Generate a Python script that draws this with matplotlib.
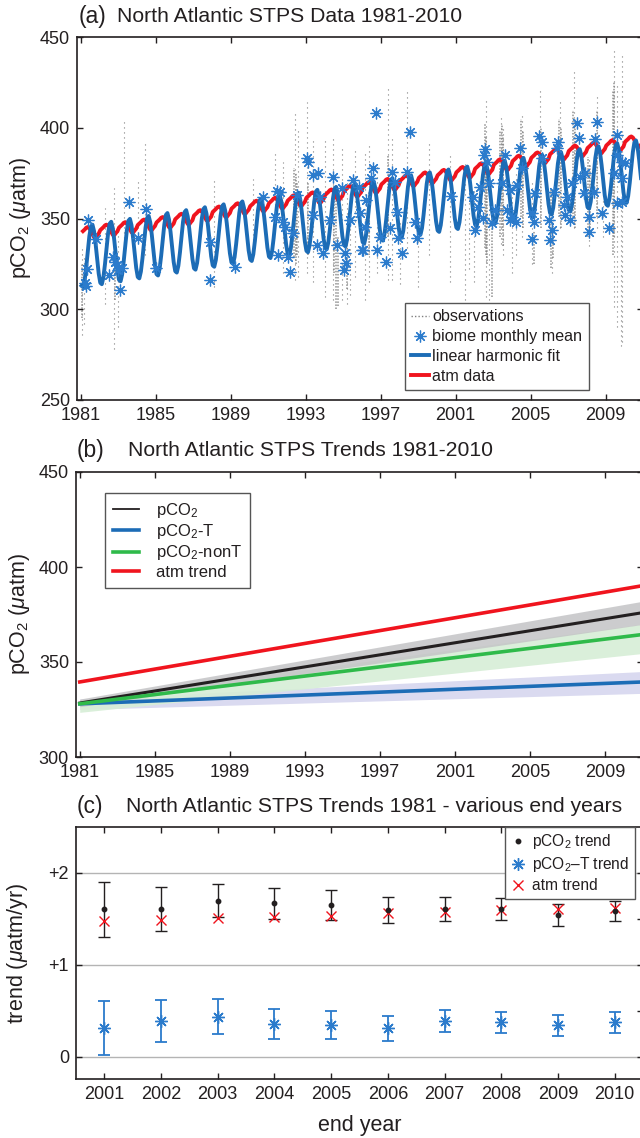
import numpy as np
import matplotlib
matplotlib.use("Agg")
import matplotlib.pyplot as plt
from matplotlib.lines import Line2D

plt.rcParams['font.family'] = ['Liberation Sans', 'DejaVu Sans']
plt.rcParams['mathtext.fontset'] = 'custom'
plt.rcParams['mathtext.rm'] = 'Liberation Sans'
plt.rcParams['mathtext.it'] = 'Liberation Sans:italic'
plt.rcParams['mathtext.sf'] = 'Liberation Sans'
plt.rcParams['text.color'] = '#231f20'
plt.rcParams['axes.labelcolor'] = '#231f20'
plt.rcParams['xtick.color'] = '#231f20'
plt.rcParams['ytick.color'] = '#231f20'

# ---------------- panel (a): observations and monthly means ----------------
# ship observation tracks: (decimal year, lowest value, highest value)
obs_t = [1981.05, 1981.15, 1982.30, 1982.80, 1983.00, 1983.30, 1984.05, 1984.45,
         1988.10, 1990.20, 1991.36, 1991.80, 1992.43, 1992.60, 1993.06, 1993.40,
         1994.03, 1994.48, 1994.93, 1995.20, 1995.37, 1995.64, 1996.17, 1996.40,
         1996.80, 1997.42, 1997.60, 1998.04, 1998.40, 1999.02, 1999.60, 2000.70,
         2001.50, 2001.73, 2001.96, 2002.60, 2002.76, 2003.40, 2003.55, 2004.00,
         2004.20, 2004.55, 2005.07, 2005.52, 2006.15, 2006.55, 2007.30, 2008.10,
         2008.57, 2008.85, 2009.43, 2009.60, 2009.80, 2009.89]
obs_lo = [286, 292, 303, 278, 290, 328, 345, 330,
          312, 338, 349, 320, 316, 318, 320, 315,
          307, 305, 305, 303, 308, 318, 305, 315,
          320, 316, 316, 314, 331, 312, 330, 315,
          305, 322, 315, 307, 305, 336, 330, 320,
          330, 340, 325, 351, 320, 345, 345, 335,
          345, 340, 301, 290, 280, 282]
obs_hi = [334, 330, 356, 367, 346, 405, 372, 392,
          372, 372, 388, 381, 410, 400, 414, 395,
          395, 395, 390, 372, 365, 388, 388, 392,
          380, 422, 395, 348, 421, 345, 392, 385,
          380, 371, 365, 417, 358, 406, 400, 372,
          375, 408, 372, 421, 366, 415, 432, 384,
          419, 360, 443, 425, 360, 440]

# densely sampled parts of the tracks
dense_t = [1981.05, 1982.85, 1992.40, 1992.48, 1992.55, 1993.10, 1994.50, 1994.62,
           1994.70, 1995.20, 1996.40, 1997.42, 2002.55, 2002.62, 2002.70, 2002.95,
           2003.35, 2003.45, 2003.55, 2004.50, 2004.58, 2005.16, 2005.55, 2006.10,
           2006.20, 2006.50, 2006.60, 2007.25, 2007.35, 2008.05, 2008.15, 2008.55,
           2009.40, 2009.47]
dense_lo = [295, 305, 329, 325, 330, 330, 320, 300,
            302, 311, 330, 340, 334, 330, 325, 307,
            340, 345, 335, 351, 345, 325, 345, 323,
            328, 351, 345, 351, 345, 340, 345, 351,
            330, 340]
dense_hi = [325, 340, 378, 375, 370, 370, 368, 360,
            340, 338, 365, 385, 402, 395, 380, 351,
            398, 402, 395, 405, 398, 343, 400, 366,
            360, 405, 400, 410, 405, 384, 380, 410,
            420, 425]

# biome monthly means
mean_t = [1981.23, 1981.28, 1981.32, 1981.41, 1981.82, 1982.53, 1982.71, 1982.83,
          1982.92, 1983.01, 1983.10, 1983.19, 1983.60, 1984.05, 1984.49, 1985.02,
          1987.87, 1987.90, 1989.23, 1990.72, 1991.36, 1991.45, 1991.54, 1991.63,
          1991.80, 1991.90, 1992.07, 1992.16, 1992.31, 1992.52, 1993.05, 1993.14,
          1993.41, 1993.41, 1993.59, 1993.68, 1993.77, 1993.94, 1994.30, 1994.48,
          1994.66, 1994.93, 1995.05, 1995.10, 1995.16, 1995.37, 1995.55, 1995.82,
          1995.90, 1995.99, 1996.08, 1996.16, 1996.24, 1996.50, 1996.60, 1996.78,
          1996.80, 1996.97, 1997.31, 1997.50, 1997.60, 1997.76, 1997.86, 1997.95,
          1998.13, 1998.39, 1998.57, 1998.84, 1998.96, 2000.78, 2001.94, 2002.05,
          2002.20, 2002.30, 2002.47, 2002.49, 2002.58, 2002.65, 2002.76, 2002.93,
          2003.12, 2003.47, 2003.65, 2003.72, 2003.92, 2003.92, 2004.00, 2004.20,
          2004.27, 2004.45, 2004.54, 2005.07, 2005.07, 2005.16, 2005.25, 2005.43,
          2005.61, 2005.61, 2005.97, 2006.06, 2006.15, 2006.23, 2006.40, 2006.48,
          2006.76, 2006.85, 2006.94, 2007.12, 2007.21, 2007.48, 2007.57, 2007.66,
          2007.83, 2007.92, 2008.10, 2008.10, 2008.37, 2008.46, 2008.55, 2008.82,
          2009.17, 2009.44, 2009.62, 2009.62, 2009.62, 2009.89, 2009.89, 2009.89,
          2010.06]
mean_v = [314.6, 313.0, 322.0, 349.2, 338.7, 318.9, 329.0, 326.2,
          324.4, 321.6, 310.6, 322.7, 358.9, 339.4, 355.2, 322.9,
          336.9, 316.1, 323.4, 362.0, 351.0, 365.2, 329.9, 364.8,
          348.2, 345.5, 329.0, 320.7, 341.8, 362.9, 383.2, 381.3,
          374.0, 352.0, 335.4, 374.9, 362.0, 330.8, 349.2, 372.7,
          335.4, 367.0, 321.6, 330.8, 325.3, 349.2, 371.2, 367.5,
          352.9, 332.6, 332.6, 345.5, 360.2, 372.1, 377.7, 408.0,
          332.6, 340.0, 326.2, 345.0, 375.8, 370.3, 353.7, 339.1,
          330.8, 375.8, 397.5, 348.2, 339.0, 362.5, 362.0, 343.7,
          356.5, 367.5, 350.1, 385.0, 388.5, 381.3, 369.4, 347.3,
          354.7, 369.4, 385.0, 354.7, 349.2, 365.7, 351.0, 348.2,
          368.5, 389.0, 377.7, 352.9, 338.5, 348.2, 363.9, 395.5,
          392.3, 383.2, 349.2, 338.1, 343.7, 364.8, 388.7, 392.0,
          357.4, 352.0, 362.0, 349.2, 369.4, 402.4, 394.2, 373.0,
          363.9, 375.0, 351.0, 342.7, 364.8, 393.8, 403.0, 353.0,
          344.6, 375.0, 396.0, 385.0, 358.4, 359.2, 372.1, 381.3,
          380.4]

# linear harmonic fit: level at 1981.0, slope per year, mean seasonal offsets (Jan..Dec)
fit_start = 328.8
fit_slope = 1.6
fit_season = [-15.9, -16.8, -13.2, -6.1, 2.6, 10.7, 15.9, 16.8, 13.2, 6.1, -2.6, -10.7]

# atmospheric pCO2: annual levels 1981-2010 and seasonal offsets (Jan..Dec)
atm_years = list(range(1981, 2011))
atm_annual = [342.5, 343.8, 345.2, 346.6, 348.0, 349.8, 351.8, 353.8, 355.6, 357.0,
              358.6, 360.0, 361.6, 363.2, 365.2, 367.2, 369.0, 371.0, 372.6, 374.0,
              375.6, 377.6, 379.8, 381.8, 383.6, 385.6, 387.4, 389.0, 390.4, 392.4]
atm_season = [-0.2, 0.6, 1.4, 2.4, 2.8, 2.2, 0.8, -1.2, -2.8, -3.0, -1.8, -0.8]

# ---------------- panel (b): trends ----------------
trend_years = [1981, 2011]
pco2_line = [328.4, 376.0]
pco2_lo = [326.5, 369.8]
pco2_hi = [330.5, 382.0]
pco2T_line = [328.0, 339.5]
pco2T_lo = [325.0, 333.5]
pco2T_hi = [330.5, 345.0]
pco2nonT_line = [328.0, 364.5]
pco2nonT_lo = [323.5, 354.5]
pco2nonT_hi = [330.0, 370.0]
atm_trend_line = [339.5, 390.2]

# ---------------- panel (c): trends for various end years ----------------
end_years = [2001, 2002, 2003, 2004, 2005, 2006, 2007, 2008, 2009, 2010]
pco2_trend = [1.606, 1.606, 1.696, 1.671, 1.653, 1.599, 1.613, 1.606, 1.548, 1.588]
pco2_trend_err = [0.30, 0.24, 0.18, 0.17, 0.16, 0.14, 0.13, 0.12, 0.12, 0.11]
pco2T_trend = [0.318, 0.394, 0.438, 0.354, 0.347, 0.311, 0.394, 0.376, 0.344, 0.376]
pco2T_trend_err = [0.295, 0.228, 0.19, 0.163, 0.15, 0.136, 0.12, 0.117, 0.112, 0.114]
atm_trend = [1.476, 1.490, 1.512, 1.523, 1.537, 1.562, 1.577, 1.599, 1.606, 1.617]

year_ticks = [1981, 1985, 1989, 1993, 1997, 2001, 2005, 2009]

C_TEXT = '#231f20'
C_FIT = '#1c6cb6'
C_STAR = '#2b7bcc'
C_RED = '#f0141e'
C_GREEN = '#2fba4a'
C_OBS = '#7f7f7f'

TITLE_FS = 15.2
LABEL_FS = 15.5

W, H = 640, 1138
fig = plt.figure(figsize=(W / 100, H / 100), dpi=100)


def add_axes_px(left, top, right, bottom):
    return fig.add_axes([left / W, 1 - bottom / H, (right - left) / W, (bottom - top) / H])


def style_axes(ax):
    for s in ax.spines.values():
        s.set_linewidth(1.2)
        s.set_color(C_TEXT)
    ax.tick_params(direction='in', top=True, right=True, length=4.5, width=1.0,
                   labelsize=13, pad=5)


star = (8, 2, 0)

# ---------- (a) ----------
axa = add_axes_px(77, 37, 643, 400)
axa.vlines(obs_t, obs_lo, obs_hi, colors=C_OBS, linewidth=0.8,
           linestyles=[(0, (1.0, 3.5))], zorder=1)
axa.vlines(dense_t, dense_lo, dense_hi, colors=C_OBS, linewidth=1.1,
           linestyles=[(0, (1.0, 1.0))], alpha=0.85, zorder=1)

months = np.arange(12)
atm_t = (np.array(atm_years)[:, None] + (months[None, :] + 0.5) / 12).ravel()
atm_v = (np.array(atm_annual)[:, None] + np.array(atm_season)[None, :]).ravel()
axa.plot(atm_t, atm_v, color=C_RED, lw=2.8, zorder=2, solid_capstyle='butt')

fit_t = (np.array(atm_years)[:, None] + (months[None, :] + 0.5) / 12).ravel()
fit_v = fit_start + fit_slope * (fit_t - 1981.0) + np.tile(fit_season, len(atm_years))
axa.plot(fit_t, fit_v, color=C_FIT, lw=2.8, zorder=3)

axa.plot(mean_t, mean_v, ls='none', marker=star, ms=8.5, mew=0.9, color=C_STAR, zorder=4)

axa.set_xlim(1980.8, 2011.0)
axa.set_ylim(250, 450)
axa.set_xticks(year_ticks)
axa.set_yticks([250, 300, 350, 400, 450])
style_axes(axa)
axa.set_ylabel(r'pCO$_2$ ($\mu$atm)', fontsize=LABEL_FS)
axa.yaxis.set_label_coords((33 - 77) / 566, 0.5)

fig.text(79 / W, 1 - 16 / H, '(a)', fontsize=16.5, va='center', ha='left')
fig.text(117 / W, 1 - 16 / H, 'North Atlantic STPS Data 1981-2010', fontsize=TITLE_FS,
         va='center', ha='left')

leg_a = axa.legend(
    [Line2D([], [], ls=(0, (1, 1.5)), color=C_OBS, lw=1.0),
     Line2D([], [], ls='none', marker=star, ms=8.5, mew=0.9, color=C_STAR),
     Line2D([], [], color=C_FIT, lw=2.8),
     Line2D([], [], color=C_RED, lw=2.8)],
    ['observations', 'biome monthly mean', 'linear harmonic fit', 'atm data'],
    loc='upper left', bbox_to_anchor=((405 - 77) / 566, (400 - 303) / 363),
    borderaxespad=0, fontsize=11.6, handlelength=1.1, handletextpad=0.2,
    labelspacing=0.3, borderpad=0.4, fancybox=False, framealpha=1,
    edgecolor='#555555')
leg_a.get_frame().set_linewidth(1.0)

# ---------- (b) ----------
axb = add_axes_px(76, 472, 643, 757)
axb.fill_between(trend_years, pco2T_lo, pco2T_hi, color='#dadaf0', lw=0, zorder=1)
axb.fill_between(trend_years, pco2nonT_lo, pco2nonT_hi, color='#d6eed6', lw=0,
                 alpha=0.9, zorder=1.1)
axb.fill_between(trend_years, pco2_lo, pco2_hi, color='#c4c4c6', lw=0, alpha=0.85,
                 zorder=1.2)
axb.plot(trend_years, atm_trend_line, color=C_RED, lw=2.6, zorder=3)
axb.plot(trend_years, pco2T_line, color=C_FIT, lw=2.6, zorder=3)
axb.plot(trend_years, pco2_line, color=C_TEXT, lw=2.2, zorder=3.1)
axb.plot(trend_years, pco2nonT_line, color=C_GREEN, lw=2.6, zorder=3.2)
axb.set_xlim(1980.8, 2011.0)
axb.set_ylim(300, 450)
axb.set_xticks(year_ticks)
axb.set_yticks([300, 350, 400, 450])
style_axes(axb)
axb.set_ylabel(r'pCO$_2$ ($\mu$atm)', fontsize=LABEL_FS)
axb.yaxis.set_label_coords((32 - 76) / 567, 0.5)

fig.text(77 / W, 1 - 451 / H, '(b)', fontsize=16.5, va='center', ha='left')
fig.text(128 / W, 1 - 451 / H, 'North Atlantic STPS Trends 1981-2010', fontsize=TITLE_FS,
         va='center', ha='left')

leg_b = axb.legend(
    [Line2D([], [], color=C_TEXT, lw=1.3),
     Line2D([], [], color=C_FIT, lw=2.6),
     Line2D([], [], color=C_GREEN, lw=2.6),
     Line2D([], [], color=C_RED, lw=2.6)],
    [r'pCO$_2$', r'pCO$_2$-T', r'pCO$_2$-nonT', 'atm trend'],
    loc='upper left', bbox_to_anchor=((105 - 76) / 567, (757 - 493) / 285),
    borderaxespad=0, fontsize=12, handlelength=1.6, handletextpad=1.0,
    labelspacing=0.15, borderpad=0.45, fancybox=False, framealpha=1,
    edgecolor='#555555')
leg_b.get_frame().set_linewidth(1.0)

# ---------- (c) ----------
axc = add_axes_px(76, 827, 643, 1079)
for g in [0, 1, 2]:
    axc.axhline(g, color='#b4b4b4', lw=1.0, zorder=0)
axc.errorbar(end_years, pco2_trend, yerr=pco2_trend_err, fmt='none', ecolor=C_TEXT,
             elinewidth=1.0, capsize=4.5, capthick=1.0, zorder=2)
axc.errorbar(end_years, pco2T_trend, yerr=pco2T_trend_err, fmt='none', ecolor=C_STAR,
             elinewidth=1.3, capsize=4.5, capthick=1.3, zorder=2)
axc.plot(end_years, pco2T_trend, ls='none', marker=star, ms=9, mew=1.0, color=C_STAR,
         zorder=3)
axc.plot(end_years, atm_trend, ls='none', marker='x', ms=7, mew=1.0, color=C_RED,
         zorder=3)
axc.plot(end_years, pco2_trend, ls='none', marker='o', ms=3.2, color=C_TEXT, zorder=4)
axc.set_xlim(2000.5, 2010.5)
axc.set_ylim(-0.24, 2.5)
axc.set_xticks(end_years)
axc.set_yticks([0, 1, 2])
axc.set_yticklabels(['0', '+1', '+2'])
axc.set_yticks([0.5, 1.5], minor=True)
style_axes(axc)
axc.tick_params(axis='y', which='minor', direction='in', left=False, right=True,
                length=4.5, width=1.0)
axc.set_ylabel(r'trend ($\mu$atm/yr)', fontsize=LABEL_FS)
axc.yaxis.set_label_coords((30 - 76) / 567, 0.5)
axc.set_xlabel('end year', fontsize=LABEL_FS, labelpad=9)

fig.text(77 / W, 1 - 806 / H, '(c)', fontsize=16.5, va='center', ha='left')
fig.text(126 / W, 1 - 806 / H, 'North Atlantic STPS Trends 1981 - various end years',
         fontsize=TITLE_FS, va='center', ha='left')

leg_c = axc.legend(
    [Line2D([], [], ls='none', marker='o', ms=3.2, color=C_TEXT),
     Line2D([], [], ls='none', marker=star, ms=9, mew=1.0, color=C_STAR),
     Line2D([], [], ls='none', marker='x', ms=7, mew=1.0, color=C_RED)],
    [r'pCO$_2$ trend', r'pCO$_2$–T trend', 'atm trend'],
    loc='upper left', bbox_to_anchor=((505 - 76) / 567, 1.0),
    borderaxespad=0, fontsize=11.2, handlelength=1.0, handletextpad=0.4,
    labelspacing=0.25, borderpad=0.35, fancybox=False, framealpha=1,
    edgecolor='#555555')
leg_c.get_frame().set_linewidth(1.0)

fig.savefig('out.png', dpi=100)
